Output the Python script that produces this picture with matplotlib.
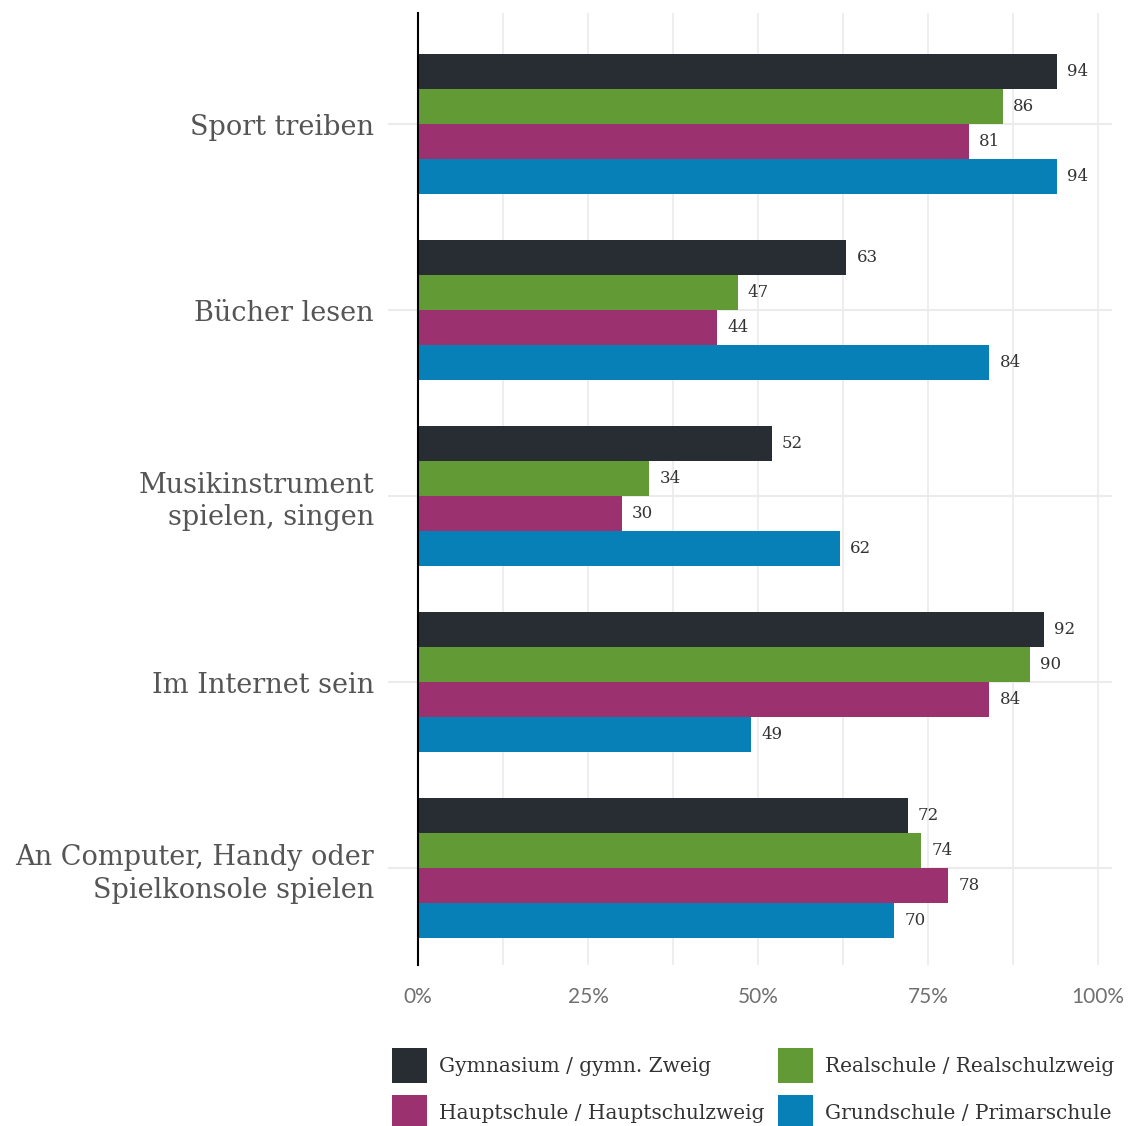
import numpy as np
import matplotlib
matplotlib.use('Agg')
import matplotlib.pyplot as plt
from matplotlib.patches import Patch

# data
categories = ['Sport treiben', 'Bücher lesen', 'Musikinstrument\nspielen, singen',
              'Im Internet sein', 'An Computer, Handy oder\nSpielkonsole spielen']
series_names = ['Gymnasium / gymn. Zweig', 'Realschule / Realschulzweig',
                'Hauptschule / Hauptschulzweig', 'Grundschule / Primarschule']
gymnasium = [94, 63, 52, 92, 72]
realschule = [86, 47, 34, 90, 74]
hauptschule = [81, 44, 30, 84, 78]
grundschule = [94, 84, 62, 49, 70]
x_ticks = [0, 25, 50, 75, 100]
x_tick_labels = ['0%', '25%', '50%', '75%', '100%']

colors = ['#282c33', '#629a35', '#9c3170', '#0780b7']
series = [gymnasium, realschule, hauptschule, grundschule]

W, H = 1131, 1126
fig = plt.figure(figsize=(W / 100, H / 100), dpi=100)
ax = fig.add_axes([418 / W, 1 - 965 / H, (1112 - 418) / W, (965 - 13) / H])

bar_h = 35 / 186
y = np.arange(len(categories))
for j, (vals, col) in enumerate(zip(series, colors)):
	pos = y + (j - 1.5) * bar_h
	ax.barh(pos, vals, height=bar_h, color=col, zorder=3)
	for p, v in zip(pos, vals):
		ax.text(v + 1.5, p, str(v), va='center', ha='left', fontsize=12,
				family='DejaVu Serif', color='#333333', zorder=4)

ax.set_xlim(0, 694 / 6.8)
ax.set_ylim(4.52, -0.597)

ax.set_xticks(x_ticks)
ax.set_xticklabels(x_tick_labels, fontsize=15, color='#707070', family='Lato')
ax.set_xticks([12.5, 37.5, 62.5, 87.5], minor=True)
ax.tick_params(axis='x', which='both', length=0, pad=16)

ax.set_yticks(y)
ax.set_yticklabels(categories, fontsize=19.5, color='#555555', family='DejaVu Serif',
				   linespacing=1.25)
ax.tick_params(axis='y', length=21.6, width=1.5, color='#ebebeb', pad=10)

ax.grid(True, which='both', axis='x', color='#ebebeb', linewidth=1.2, zorder=0)
ax.grid(True, axis='y', color='#ebebeb', linewidth=1.5, zorder=0)

for s in ['top', 'right', 'bottom']:
	ax.spines[s].set_visible(False)
ax.spines['left'].set_color('black')
ax.spines['left'].set_linewidth(1.5)
ax.spines['left'].set_zorder(5)

# legend in two separate columns
handles = [Patch(facecolor=c, edgecolor='none') for c in colors]
leg_kw = dict(frameon=False, borderpad=0, borderaxespad=0, handlelength=1.74,
			  handleheight=2.3, handletextpad=0.58, labelspacing=0.6, loc='upper left',
			  prop={'family': 'DejaVu Serif', 'size': 14.5})
leg1 = fig.legend([handles[0], handles[2]], [series_names[0], series_names[2]],
				  bbox_to_anchor=(392 / W, 1 - 1048 / H), **leg_kw)
leg2 = fig.legend([handles[1], handles[3]], [series_names[1], series_names[3]],
				  bbox_to_anchor=(778 / W, 1 - 1048 / H), **leg_kw)
for leg in [leg1, leg2]:
	for t in leg.get_texts():
		t.set_color('#333333')

fig.savefig('out.png', dpi=100)
